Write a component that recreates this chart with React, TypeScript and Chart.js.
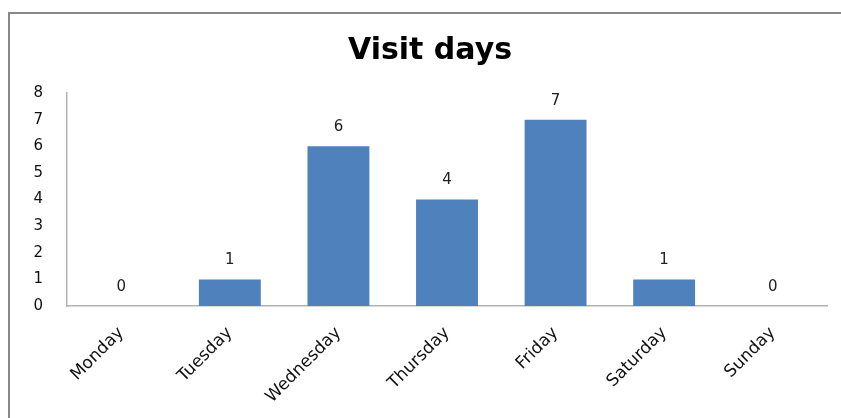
import React, { useEffect, useRef } from "react";
import { Chart, registerables } from "chart.js";

Chart.register(...registerables);

const chartTitle = "Visit days";
const days = ["Monday", "Tuesday", "Wednesday", "Thursday", "Friday", "Saturday", "Sunday"];
const visits = [0, 1, 6, 4, 7, 1, 0];
const yMax = 8;

const FONT = "'DejaVu Sans', Tahoma, sans-serif";

const decorPlugin = {
  id: "decor",
  afterDraw(chart: any) {
    const ctx = chart.ctx;
    ctx.save();
    // outer frame
    ctx.strokeStyle = "#888888";
    ctx.lineWidth = 2;
    ctx.beginPath();
    ctx.moveTo(9, 430);
    ctx.lineTo(9, 13);
    ctx.lineTo(850, 13);
    ctx.stroke();
    // title
    ctx.fillStyle = "#000000";
    ctx.font = `bold 30px ${FONT}`;
    ctx.textAlign = "center";
    ctx.textBaseline = "alphabetic";
    ctx.fillText(chartTitle, 430, 59);
    // data labels
    const meta = chart.getDatasetMeta(0);
    ctx.font = `15px ${FONT}`;
    ctx.fillStyle = "#222222";
    ctx.textBaseline = "middle";
    meta.data.forEach((bar: any, i: number) => {
      ctx.fillText(String(visits[i]), bar.x, bar.y - 19);
    });
    ctx.restore();
  },
};

export default function App() {
  const ref = useRef<HTMLCanvasElement>(null);
  useEffect(() => {
    document.body.style.margin = "0";
    const chart = new Chart(ref.current!, {
      type: "bar",
      data: {
        labels: days,
        datasets: [
          {
            data: visits,
            backgroundColor: "#4f81bd",
            borderWidth: 0,
            categoryPercentage: 1,
            barPercentage: 0.57,
          },
        ],
      },
      options: {
        animation: false,
        responsive: false,
        layout: { padding: { top: 93, right: 14, left: 0, bottom: 0 } },
        plugins: { legend: { display: false }, tooltip: { enabled: false } },
        scales: {
          x: {
            grid: { display: false, drawTicks: false },
            border: { display: true, color: "#b3b3b3", width: 1.5 },
            ticks: {
              maxRotation: 45,
              minRotation: 45,
              padding: 17,
              color: "#111111",
              font: { family: FONT, size: 17 },
            },
            afterFit(scale: any) {
              scale.height = 112;
            },
          },
          y: {
            min: 0,
            max: yMax,
            grid: { display: false, drawTicks: false },
            border: { display: true, color: "#b3b3b3", width: 1.5 },
            ticks: {
              stepSize: 1,
              padding: 24,
              color: "#111111",
              font: { family: FONT, size: 15 },
            },
            afterFit(scale: any) {
              scale.width = 67;
            },
          },
        },
      },
      plugins: [decorPlugin],
    });
    return () => chart.destroy();
  }, []);
  return <canvas ref={ref} width={841} height={418} style={{ display: "block" }} />;
}
